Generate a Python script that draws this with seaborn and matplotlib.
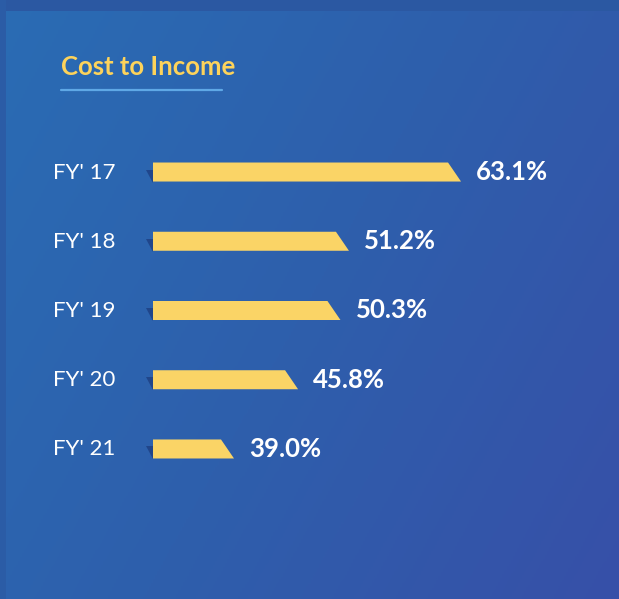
import numpy as np
import matplotlib
matplotlib.use("Agg")
import matplotlib.pyplot as plt
import seaborn as sns
from matplotlib.patches import Polygon, Rectangle
from matplotlib.lines import Line2D
from matplotlib.colors import LinearSegmentedColormap
from matplotlib.transforms import blended_transform_factory

# data
years = ["FY' 17", "FY' 18", "FY' 19", "FY' 20", "FY' 21"]
cost_income = [63.1, 51.2, 50.3, 45.8, 39.0]
value_labels = ["63.1%", "51.2%", "50.3%", "45.8%", "39.0%"]
title = "Cost to Income"

BAR = "#fad466"
TITLE_COL = "#fdd35b"
W, H = 619, 599
PX_PER_UNIT = 9.42   # horizontal scale of the bars
BASE = 30.4          # value where the bars start

sns.set_theme(style="white")
plt.rcParams['font.family'] = ['Lato', 'DejaVu Sans']

fig = plt.figure(figsize=(W / 100, H / 100), dpi=100)

# gradient background + darker frame strips
bg = fig.add_axes([0, 0, 1, 1], zorder=0)
bg.set_axis_off()
yy, xx = np.mgrid[0:1:300j, 0:1:300j]
grad = xx * 0.65 + yy * 0.35
cmap = LinearSegmentedColormap.from_list("bgc", ["#2a6cb4", "#2e5fac", "#3750a8"])
bg.imshow(grad, cmap=cmap, extent=[0, 1, 0, 1], aspect='auto')
bg.set_xlim(0, 1)
bg.set_ylim(0, 1)
bg.add_patch(Rectangle((0, 1 - 11 / H), 1, 11 / H, color="#2b58a2", lw=0))
bg.add_patch(Rectangle((0, 0), 6 / W, 1, color="#2b5ca6", lw=0))

# title and underline
fig.text(61 / W, 1 - 75 / H, title, color=TITLE_COL, fontsize=18.5, fontweight='bold', va='baseline')
fig.add_artist(Line2D([61 / W, 222 / W], [1 - 89.5 / H] * 2, color="#5fa8e6", lw=1.6))

# bar axes
top_px, bot_px = 137.4, 483.6
ax = fig.add_axes([153 / W, 1 - bot_px / H, 1 - 153 / W, (bot_px - top_px) / H], zorder=1)
ax.patch.set_alpha(0)
sns.barplot(x=cost_income, y=years, orient='h', color=BAR, saturation=1, width=19 / 69.2, ax=ax)
ax.set_xlim(BASE, BASE + (W - 153) / PX_PER_UNIT)
ax.set_ylim(4.5, -0.5)
ax.set_axis_off()

slant = 13 / PX_PER_UNIT
sh_dx = 7 / PX_PER_UNIT
row_px = (bot_px - top_px) / 5
for p in list(ax.patches):
    y0, h, v = p.get_y(), p.get_height(), p.get_width()
    p.remove()
    ax.add_patch(Polygon([(BASE, y0), (v - slant, y0), (v, y0 + h), (BASE, y0 + h)],
                         closed=True, color=BAR, lw=0))
    # small folded shadow at the start of the bar
    ax.add_patch(Polygon([(BASE - sh_dx, y0 + 7 / row_px), (BASE, y0 + 7 / row_px),
                          (BASE, y0 + h + 1 / row_px)],
                         closed=True, color="#1d3f82", alpha=0.8, lw=0, clip_on=False))

trans = blended_transform_factory(fig.transFigure, ax.transData)
for i, (yr, v, lab) in enumerate(zip(years, cost_income, value_labels)):
    ax.text(53 / W, i + 6.5 / row_px, yr, transform=trans, color='white', fontsize=16,
            va='baseline', ha='left')
    ax.text(v + 15 / PX_PER_UNIT, i + 8 / row_px, lab, color='white', fontsize=18.5,
            fontweight='bold', va='baseline', ha='left')

fig.savefig("out.png", dpi=100)
